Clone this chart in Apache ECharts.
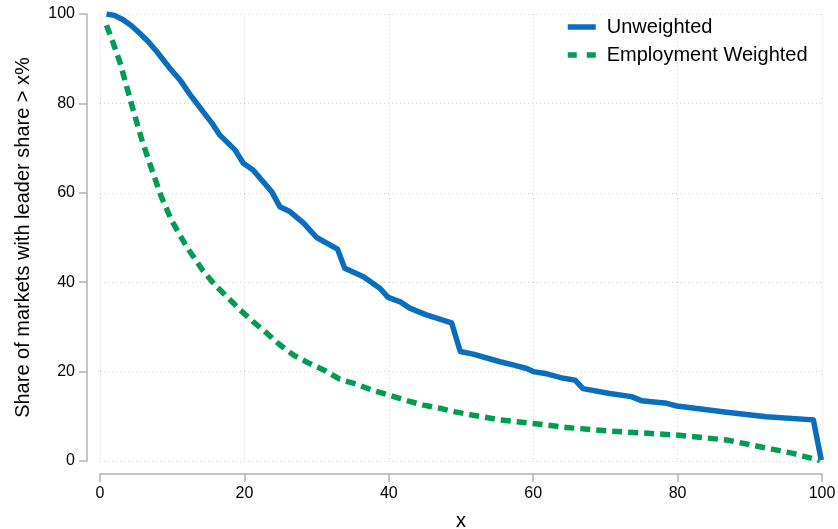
<!DOCTYPE html>
<html>
<head>
<meta charset="utf-8">
<script src="https://cdn.jsdelivr.net/npm/echarts@6/dist/echarts.min.js"></script>
<style>
html,body{margin:0;padding:0;background:#fff;}
#chart{width:838px;height:529px;}
</style>
</head>
<body>
<div id="chart"></div>
<script>
const seriesNames = ['Unweighted', 'Employment Weighted'];
const xTicks = [0, 20, 40, 60, 80, 100];

const unweightedX = [0.9, 2, 3.2, 4.4, 5.5, 6.7, 7.85, 9.7, 11.1, 12.5, 14.3, 15.5, 16.6, 18.7, 19.85, 21.2, 23.8, 24.9, 26.3, 28.2, 30.0, 32.9, 33.9, 36.5, 38.8, 39.9, 41.6, 42.9, 45.2, 48.7, 49.9, 51.7, 55.4, 57.2, 59.1, 60.0, 61.9, 64.2, 65.8, 66.9, 70.6, 73.6, 75.0, 78.5, 79.9, 83.5, 86.8, 92.3, 98.8, 99.9];
const unweightedY = [100, 99.7, 98.7, 97.3, 95.7, 93.8, 91.6, 87.8, 85.2, 81.9, 78.1, 75.6, 72.9, 69.6, 66.6, 65.1, 60.2, 56.9, 55.8, 53.2, 50.0, 47.4, 43.1, 41.2, 38.6, 36.6, 35.6, 34.2, 32.7, 30.9, 24.5, 23.9, 22.2, 21.5, 20.7, 20.0, 19.5, 18.5, 18.1, 16.2, 15.1, 14.4, 13.5, 12.9, 12.3, 11.6, 10.9, 9.9, 9.2, 0.2];

const weightedX = [0.9, 1.85, 2.8, 3.7, 4.6, 5.8, 7.2, 8.5, 9.9, 12.0, 14.3, 15.9, 17.8, 19.4, 21.2, 23.1, 24.9, 26.8, 28.9, 31.2, 33.2, 35.5, 37.6, 39.9, 42.5, 44.8, 47.1, 49.2, 51.5, 55.4, 60.0, 64.6, 70.6, 79.9, 86.8, 91.4, 96.0, 99.7];
const weightedY = [97.5, 93.4, 89.0, 83.7, 78.5, 71.8, 65.1, 59.1, 53.9, 47.9, 42.5, 39.4, 36.4, 33.8, 31.2, 28.6, 26.0, 23.7, 21.9, 20.2, 18.3, 17.2, 15.9, 14.8, 13.5, 12.5, 11.8, 11.0, 10.3, 9.2, 8.4, 7.5, 6.7, 5.8, 4.7, 3.2, 1.7, 0.1];

const zip = (xs, ys) => xs.map((x, i) => [x, ys[i]]);
const FONT = '"Liberation Sans", Arial, sans-serif';
const axisGray = '#b3b3b3';
const gridGray = '#d0d0d0';
const blue = '#0a6ebd';
const green = '#009b55';

const chart = echarts.init(document.getElementById('chart'), null, {renderer: 'canvas'});
chart.setOption({
  animation: false,
  textStyle: {fontFamily: FONT},
  grid: {left: 100, right: 16, top: 14, bottom: 68, containLabel: false, outerBoundsMode: 'none'},
  legend: {
    orient: 'vertical', left: 565, top: 17, padding: 0,
    itemWidth: 28, itemHeight: 20, itemGap: 8,
    itemStyle: {opacity: 0},
    textStyle: {fontSize: 20, color: '#000', fontFamily: FONT, padding: [0, 0, 0, 6]},
    data: [
      {name: seriesNames[0], lineStyle: {width: 5.5, color: blue}},
      {name: seriesNames[1], lineStyle: {width: 5.5, color: green, type: [9, 10]}}
    ]
  },
  xAxis: {
    type: 'value', min: 0, max: 100, interval: 20, offset: 13,
    name: 'x', nameLocation: 'middle', nameGap: 37,
    nameTextStyle: {fontSize: 20, color: '#000'},
    axisLine: {show: true, onZero: false, lineStyle: {color: axisGray, width: 1.5}},
    axisTick: {show: true, length: 8, lineStyle: {color: axisGray, width: 1.5}},
    axisLabel: {fontSize: 16, color: '#000', margin: 12,
      formatter: v => xTicks.includes(v) ? String(v) : ''},
    splitLine: {show: true, lineStyle: {color: gridGray, type: [1, 3], width: 1}}
  },
  yAxis: {
    type: 'value', min: 0, max: 100, interval: 20, offset: 13,
    name: 'Share of markets with leader share > x%', nameLocation: 'middle', nameGap: 54,
    nameTextStyle: {fontSize: 20, color: '#000'},
    axisLine: {show: true, onZero: false, lineStyle: {color: axisGray, width: 1.5}},
    axisTick: {show: true, length: 8, lineStyle: {color: axisGray, width: 1.5}},
    axisLabel: {fontSize: 16, color: '#000', margin: 12},
    splitLine: {show: true, lineStyle: {color: gridGray, type: [1, 3], width: 1}}
  },
  series: [
    {
      name: seriesNames[0], type: 'line', data: zip(unweightedX, unweightedY),
      showSymbol: false, symbol: 'none', smooth: false,
      lineStyle: {color: blue, width: 5.5, cap: 'butt', join: 'round'},
      itemStyle: {color: blue}
    },
    {
      name: seriesNames[1], type: 'line', data: zip(weightedX, weightedY),
      showSymbol: false, symbol: 'none', smooth: false,
      lineStyle: {color: green, width: 5.5, type: [10, 6], cap: 'butt'},
      itemStyle: {color: green}
    }
  ]
});
</script>
</body>
</html>
